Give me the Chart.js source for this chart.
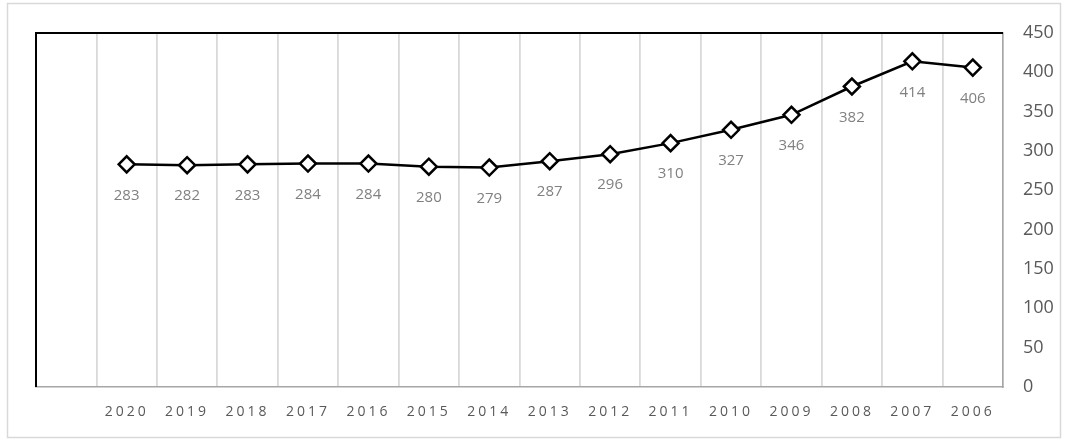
<!DOCTYPE html>
<html>
<head>
<meta charset="utf-8">
<script src="https://cdn.jsdelivr.net/npm/chart.js@4"></script>
<style>
    html, body { margin: 0; padding: 0; background: #fff; }
    #wrap { width: 1068px; height: 441px; position: relative; }
</style>
</head>
<body>
<div id="wrap"><canvas id="yearChart" width="1068" height="441"></canvas></div>
<script>
// first slot is left empty in the original chart
const years = ["", "2020", "2019", "2018", "2017", "2016", "2015", "2014", "2013",
    "2012", "2011", "2010", "2009", "2008", "2007", "2006"];
const values = [null, 283, 282, 283, 284, 284, 280, 279, 287, 296, 310, 327, 346, 382, 414, 406];
const yTicks = [0, 50, 100, 150, 200, 250, 300, 350, 400, 450];

const frame = {
    id: "frame",
    beforeDraw(chart) {
        const c = chart.ctx;
        c.save();
        c.strokeStyle = "#d9d9d9";
        c.lineWidth = 1.5;
        c.strokeRect(7.5, 3.5, 1053, 434);
        c.restore();
        // spaced-out year labels on the x axis (drawn before datasets)
        c.letterSpacing = "3px";
    },
    beforeDatasetsDraw(chart) {
        chart.ctx.letterSpacing = "0px";
    },
    afterDatasetsDraw(chart) {
        const c = chart.ctx;
        const a = chart.chartArea;
        c.save();
        c.strokeStyle = "#000";
        c.lineWidth = 2;
        c.beginPath();
        c.moveTo(a.left, a.bottom);
        c.lineTo(a.left, a.top);
        c.lineTo(a.right, a.top);
        c.stroke();

        // value labels under each point
        const meta = chart.getDatasetMeta(0);
        c.fillStyle = "#808080";
        c.font = "15px 'Open Sans', sans-serif";
        c.textAlign = "center";
        c.textBaseline = "middle";
        meta.data.forEach((pt, i) => {
            if (values[i] == null) return;
            c.fillText(String(values[i]), pt.x, pt.y + 31);
        });
        c.restore();
    }
};

new Chart(document.getElementById("yearChart"), {
    type: "line",
    data: {
        labels: years,
        datasets: [{
            data: values,
            borderColor: "#000",
            borderWidth: 2.5,
            tension: 0,
            pointStyle: "rectRot",
            pointRadius: 8,
            pointBackgroundColor: "#fff",
            pointBorderColor: "#000",
            pointBorderWidth: 2.5,
        }],
    },
    options: {
        responsive: false,
        animation: false,
        layout: {
            padding: { left: 36, top: 33, right: 0, bottom: 0 }
        },
        plugins: {
            legend: { display: false },
            tooltip: { enabled: false },
        },
        scales: {
            x: {
                offset: true,
                grid: {
                    offset: true,
                    color: "#d9d9d9",
                    lineWidth: 1.8,
                    drawTicks: false,
                },
                border: { color: "#a6a6a6", width: 1.5 },
                ticks: {
                    color: "#595959",
                    padding: 17,
                    maxRotation: 0,
                    autoSkip: false,
                    font: { family: "'Open Sans', sans-serif", size: 14 },
                },
                afterFit(scale) { scale.height = 54; },
            },
            y: {
                position: "right",
                min: 0,
                max: 450,
                afterBuildTicks(scale) {
                    scale.ticks = yTicks.map(v => ({ value: v }));
                },
                grid: { display: false, drawTicks: false },
                border: { color: "#a6a6a6", width: 1.5 },
                ticks: {
                    z: 1,
                    color: "#595959",
                    padding: 20,
                    font: { family: "'Open Sans', sans-serif", size: 18 },
                },
                afterFit(scale) { scale.width = 65; },
            },
        },
    },
    plugins: [frame]
});
</script>
</body>
</html>
